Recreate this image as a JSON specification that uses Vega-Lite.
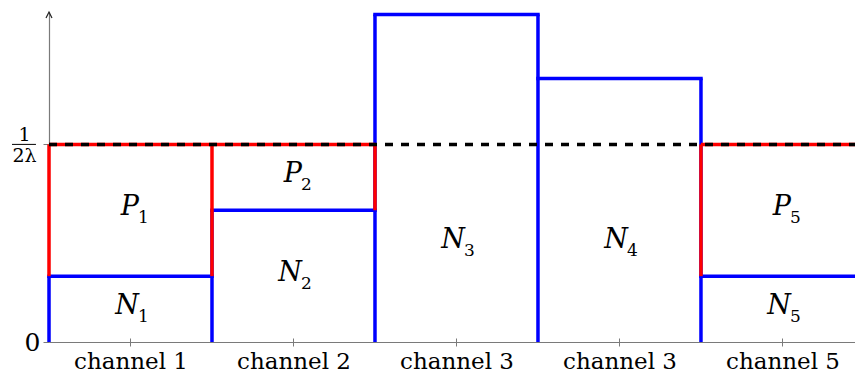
{
  "$schema": "https://vega.github.io/schema/vega-lite/v6.json",
  "width": 806,
  "height": 330,
  "autosize": "none",
  "padding": {"left": 49, "top": 12, "right": 0, "bottom": 32},
  "config": {
    "view": {"stroke": null},
    "axis": {"grid": false, "domainColor": "#7a7a7a", "tickColor": "#7a7a7a", "labelFont": "DejaVu Serif", "labelColor": "black", "title": null}
  },
  "datasets": {
    "blueV": [
      {"x": 0, "y": 0, "y2": 0.3333},
      {"x": 1, "y": 0, "y2": 0.6667},
      {"x": 2, "y": 0, "y2": 1.657},
      {"x": 3, "y": 0, "y2": 1.657},
      {"x": 4, "y": 0, "y2": 1.333}
    ],
    "blueH": [
      {"x": 0, "x2": 1, "y": 0.3333},
      {"x": 1, "x2": 2, "y": 0.6667},
      {"x": 2, "x2": 3, "y": 1.657},
      {"x": 3, "x2": 4, "y": 1.333},
      {"x": 4, "x2": 5, "y": 0.3333}
    ],
    "redV": [
      {"x": 0, "y": 0.3333, "y2": 1},
      {"x": 1, "y": 0.3333, "y2": 1},
      {"x": 2, "y": 0.6667, "y2": 1},
      {"x": 4, "y": 0.3333, "y2": 1}
    ],
    "redH": [
      {"x": 0, "x2": 2, "y": 1},
      {"x": 4, "x2": 5, "y": 1}
    ],
    "level": [
      {"x": 0, "x2": 5, "y": 1}
    ],
    "labels": [
      {"x": 0.5, "y": 0.6667, "m": "P", "s": "1"},
      {"x": 0.5, "y": 0.1667, "m": "N", "s": "1"},
      {"x": 1.5, "y": 0.8333, "m": "P", "s": "2"},
      {"x": 1.5, "y": 0.3333, "m": "N", "s": "2"},
      {"x": 2.5, "y": 0.5, "m": "N", "s": "3"},
      {"x": 3.5, "y": 0.5, "m": "N", "s": "4"},
      {"x": 4.5, "y": 0.6667, "m": "P", "s": "5"},
      {"x": 4.5, "y": 0.1667, "m": "N", "s": "5"}
    ],
    "arrow": [{"x": 0, "y": 1.67}],
    "fracbar": [{"x": -0.227, "x2": -0.08, "y": 1}]
  },
  "resolve": {"axis": {"x": "independent"}},
  "layer": [
    {
      "data": {"name": "blueV"},
      "mark": {"type": "rule", "stroke": "#0000ff", "strokeWidth": 3.5},
      "encoding": {
        "x": {"field": "x", "type": "quantitative",
          "scale": {"domain": [0, 4.945], "nice": false, "zero": false},
          "axis": {"orient": "bottom", "values": [0.5, 1.5, 2.5, 3.5, 4.5],
            "labelExpr": "['channel 1','channel 2','channel 3','channel 3','channel 5'][floor(datum.value)]",
            "tickSize": 4, "labelPadding": 4, "labelFontSize": 23, "domainWidth": 1.2, "labelFlush": false, "labelOverlap": false}},
        "y": {"field": "y", "type": "quantitative",
          "scale": {"domain": [0, 1.67], "nice": false},
          "axis": {"values": [0, 1], "tickSize": 6, "labelPadding": 19, "domainWidth": 1.2,
            "labelExpr": "datum.value == 1 ? ['1','2λ'] : '0'",
            "labelAlign": {"condition": {"test": "datum.value == 1", "value": "center"}, "value": "left"},
            "labelFontSize": {"condition": {"test": "datum.value == 1", "value": 19}, "value": 25},
            "labelOffset": {"condition": {"test": "datum.value == 1", "value": -10}, "value": 0},
            "labelLineHeight": 21, "labelBaseline": "middle", "labelFlush": false, "labelOverlap": false}},
        "y2": {"field": "y2"}
      }
    },
    {
      "data": {"name": "blueH"},
      "mark": {"type": "rule", "stroke": "#0000ff", "strokeWidth": 3.5, "strokeCap": "square"},
      "encoding": {
        "x": {"field": "x", "type": "quantitative",
          "axis": {"orient": "bottom", "values": [0.5, 1.5, 2.5, 3.5, 4.5], "tickSize": -4, "labels": false, "domain": false}},
        "x2": {"field": "x2"},
        "y": {"field": "y", "type": "quantitative"}
      }
    },
    {
      "data": {"name": "redV"},
      "mark": {"type": "rule", "stroke": "#ff0000", "strokeWidth": 3.5},
      "encoding": {
        "x": {"field": "x", "type": "quantitative", "axis": null},
        "y": {"field": "y", "type": "quantitative"},
        "y2": {"field": "y2"}
      }
    },
    {
      "data": {"name": "redH"},
      "mark": {"type": "rule", "stroke": "#ff0000", "strokeWidth": 3.5},
      "encoding": {
        "x": {"field": "x", "type": "quantitative", "axis": null},
        "x2": {"field": "x2"},
        "y": {"field": "y", "type": "quantitative"}
      }
    },
    {
      "data": {"name": "level"},
      "mark": {"type": "rule", "stroke": "black", "strokeWidth": 3.5, "strokeDash": [8, 8]},
      "encoding": {
        "x": {"field": "x", "type": "quantitative", "axis": null},
        "x2": {"field": "x2"},
        "y": {"field": "y", "type": "quantitative"}
      }
    },
    {
      "data": {"name": "fracbar"},
      "mark": {"type": "rule", "stroke": "black", "strokeWidth": 1},
      "encoding": {
        "x": {"field": "x", "type": "quantitative", "axis": null},
        "x2": {"field": "x2"},
        "y": {"field": "y", "type": "quantitative"}
      }
    },
    {
      "data": {"name": "labels"},
      "mark": {"type": "text", "font": "DejaVu Serif", "fontStyle": "italic", "fontSize": 27, "align": "right", "baseline": "alphabetic", "dx": 8.5, "dy": 5, "color": "black"},
      "encoding": {
        "x": {"field": "x", "type": "quantitative", "axis": null},
        "y": {"field": "y", "type": "quantitative"},
        "text": {"field": "m"}
      }
    },
    {
      "data": {"name": "labels"},
      "mark": {"type": "text", "font": "DejaVu Serif", "fontSize": 17, "align": "left", "baseline": "alphabetic", "dx": 7.5, "dy": 12.5, "color": "black"},
      "encoding": {
        "x": {"field": "x", "type": "quantitative", "axis": null},
        "y": {"field": "y", "type": "quantitative"},
        "text": {"field": "s"}
      }
    },
    {
      "data": {"name": "arrow"},
      "mark": {"type": "point", "shape": "M-1,2L0,0L1,2", "size": 36, "filled": false, "stroke": "#222", "strokeWidth": 1.2, "opacity": 1},
      "encoding": {
        "x": {"field": "x", "type": "quantitative", "axis": null},
        "y": {"field": "y", "type": "quantitative"}
      }
    }
  ]
}
